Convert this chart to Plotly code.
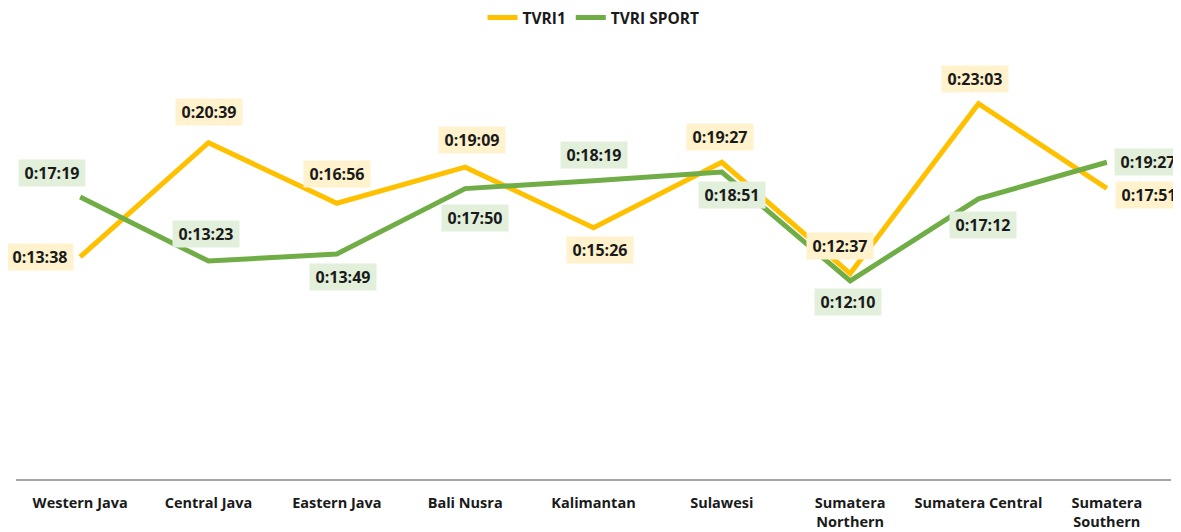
import plotly.graph_objects as go

categories = ["Western Java", "Central Java", "Eastern Java", "Bali Nusra", "Kalimantan",
              "Sulawesi", "Sumatera<br>Northern", "Sumatera Central", "Sumatera<br>Southern"]
tvri1_times = ["0:13:38", "0:20:39", "0:16:56", "0:19:09", "0:15:26",
               "0:19:27", "0:12:37", "0:23:03", "0:17:51"]
tvri_sport_times = ["0:17:19", "0:13:23", "0:13:49", "0:17:50", "0:18:19",
                    "0:18:51", "0:12:10", "0:17:12", "0:19:27"]


def to_minutes(s):
    h, m, sec = (int(p) for p in s.split(":"))
    return h * 60 + m + sec / 60.0


tvri1_vals = [to_minutes(t) for t in tvri1_times]
sport_vals = [to_minutes(t) for t in tvri_sport_times]

ORANGE = "#FFC000"
GREEN = "#70AD47"
FONT = "Open Sans"
TXT = "#1a1a1a"

# label placement offsets (pixels, dx right, dy down)
tvri1_off = [(-40, 0), (0, -31), (0, -29), (7, -27), (6, 22), (-2, -25), (-10, -28), (-4, -25), (42, 7)]
sport_off = [(-28, -24), (-3, -27), (6, 23), (10, 29), (0, -26), (10, 23), (-2, 21), (4, 26), (41, 0)]

fig = go.Figure()
fig.add_trace(go.Scatter(x=categories, y=tvri1_vals, mode="lines", name="<b>TVRI1</b>",
                         line=dict(color=ORANGE, width=5), hoverinfo="skip"))
fig.add_trace(go.Scatter(x=categories, y=sport_vals, mode="lines", name="<b>TVRI SPORT</b>",
                         line=dict(color=GREEN, width=5), hoverinfo="skip"))

annotations = []
for vals, times, offs, bg in ((tvri1_vals, tvri1_times, tvri1_off, "#FFF2CC"),
                              (sport_vals, tvri_sport_times, sport_off, "#E2EFDA")):
    for cat, val, txt, (dx, dy) in zip(categories, vals, times, offs):
        annotations.append(dict(x=cat, y=val, xref="x", yref="y", text="<b>%s</b>" % txt,
                                showarrow=False, xshift=dx, yshift=-dy, bgcolor=bg,
                                width=62, height=22, borderpad=2,
                                font=dict(family=FONT, size=16, color=TXT)))

# page body has an 8px default margin: figure is sized/offset to compensate
fig.update_layout(
    width=1173, height=524,
    margin=dict(l=8, r=10, t=2.4, b=53, autoexpand=False),
    paper_bgcolor="white", plot_bgcolor="white",
    font=dict(family=FONT, size=14, color=TXT),
    showlegend=True,
    legend=dict(orientation="h", x=0.5, xanchor="center", y=0.983, yanchor="middle",
                font=dict(family=FONT, size=15.5, color=TXT), itemwidth=30,
                bgcolor="rgba(0,0,0,0)"),
    annotations=annotations,
)
fig.update_xaxes(showgrid=False, showline=True, linecolor="#A6A6A6", linewidth=1.5,
                 ticks="", range=[-0.5, 8.5], tickfont=dict(family=FONT, size=14.5, color=TXT),
                 ticklabelstandoff=10, tickprefix="<b>", ticksuffix="</b>", fixedrange=True,
                 automargin=False)
fig.update_yaxes(visible=False, range=[0, 28.8], showgrid=False, zeroline=False, fixedrange=True)

fig.write_html("out.html")
